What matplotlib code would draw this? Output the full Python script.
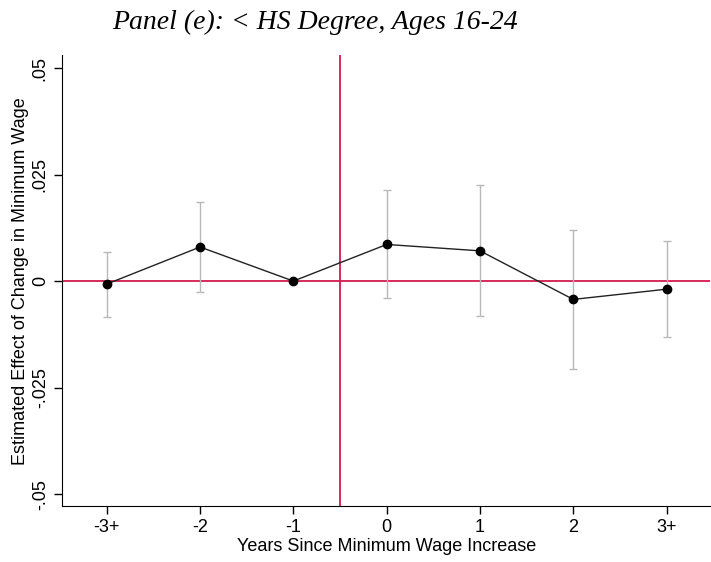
import matplotlib
matplotlib.use('Agg')
import matplotlib.pyplot as plt
import numpy as np

labels = ['-3+', '-2', '-1', '0', '1', '2', '3+']
est = [-0.0007, 0.0080, 0.0000, 0.0086, 0.0071, -0.0043, -0.0019]
ci_hi = [0.0068, 0.0186, 0.0000, 0.0214, 0.0225, 0.0120, 0.0095]
ci_lo = [-0.0085, -0.0026, 0.0000, -0.0039, -0.0081, -0.0207, -0.0131]
yticks = [-0.05, -0.025, 0, 0.025, 0.05]
yticklabels = ['-.05', '-.025', '0', '.025', '.05']

red = '#d21a4f'
x = np.arange(len(labels))
est = np.array(est)
err = np.array([est - np.array(ci_lo), np.array(ci_hi) - est])

plt.rcParams['font.family'] = ['Liberation Sans', 'DejaVu Sans']

fig = plt.figure(figsize=(7.11, 5.62), dpi=100)
ax = fig.add_axes([0.0872, 0.0996, 0.912, 0.802])

ax.axhline(0, color=red, lw=1.3, zorder=1)
ax.axvline(2.5, color=red, lw=1.3, zorder=1)

# error bars only where there is a CI (omitted year has none)
has_ci = np.array(ci_hi) != np.array(ci_lo)
ax.errorbar(x[has_ci], est[has_ci], yerr=err[:, has_ci], fmt='none',
            ecolor='#b8b8b8', elinewidth=1, capsize=3, capthick=1, zorder=2)
ax.plot(x, est, '-', color='#222222', lw=1, zorder=3)
ax.plot(x, est, 'o', color='black', ms=6, zorder=4)

ax.set_xlim(-0.48, 6.47)
ax.set_ylim(-0.0528, 0.053)
ax.set_xticks(x)
ax.set_xticklabels(labels, fontsize=13)
ax.set_yticks(yticks)
ax.set_yticklabels(yticklabels, fontsize=13, rotation=90, va='center')
ax.tick_params(length=6, width=1)

ax.spines['top'].set_visible(False)
ax.spines['right'].set_visible(False)

ax.set_xlabel('Years Since Minimum Wage Increase', fontsize=13, labelpad=1)
ax.set_ylabel('Estimated Effect of Change in Minimum Wage', fontsize=13, labelpad=2)

fig.text(0.443, 0.96, 'Panel (e): < HS Degree, Ages 16-24', fontsize=20,
         style='italic', family='Liberation Serif', ha='center', va='center')

fig.savefig('out.png', dpi=100)
